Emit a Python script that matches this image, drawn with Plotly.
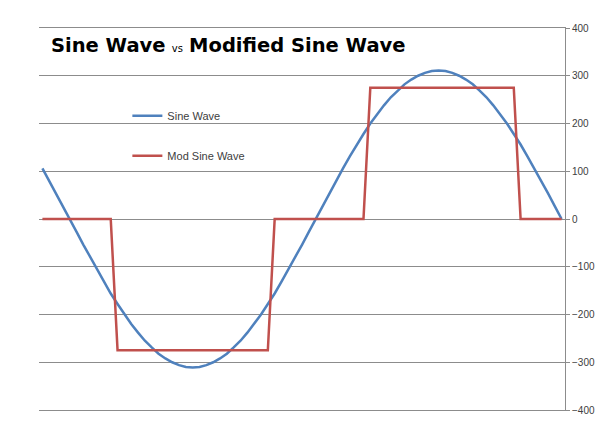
import plotly.graph_objects as go

# phase angle in degrees, 5 degree steps
angle = list(range(160, 545, 5))

sine_wave = [106, 80, 54, 27, 0, -27, -54, -80, -106, -131, -156, -178, -200, -220,
             -238, -255, -269, -282, -292, -300, -306, -310, -311, -310, -306, -300,
             -292, -282, -269, -255, -238, -220, -200, -178, -156, -131, -106, -80,
             -54, -27, 0, 27, 54, 80, 106, 131, 156, 178, 200, 220, 238, 255, 269,
             282, 292, 300, 306, 310, 311, 310, 306, 300, 292, 282, 269, 255, 238,
             220, 200, 178, 156, 131, 106, 80, 54, 27, 0]

mod_sine = ([0] * 11 + [-275] * 23 + [0] * 14 + [275] * 22 + [0] * 7)

y_ticks = [400, 300, 200, 100, 0, -100, -200, -300, -400]

fig = go.Figure()
fig.add_trace(go.Scatter(x=angle, y=sine_wave, mode="lines", name="Sine Wave",
                         line=dict(color="#4F81BD", width=2.5), legendgroup="a"))
fig.add_trace(go.Scatter(x=angle, y=mod_sine, mode="lines", name="Mod Sine Wave",
                         line=dict(color="#C0504D", width=2.5), legendgroup="b"))

fig.update_layout(
    width=609, height=431,
    margin=dict(l=31, r=52, t=20, b=29),
    paper_bgcolor="white", plot_bgcolor="white",
    font=dict(family="Liberation Sans", color="#404040", size=10),
    showlegend=True,
    legend=dict(x=0.168, y=0.808, xanchor="left", yanchor="top",
                bgcolor="rgba(0,0,0,0)", tracegroupgap=21,
                font=dict(size=11, color="#404040")),
    xaxis=dict(range=[157.5, 542.5], showticklabels=False, showgrid=False,
               zeroline=False, showline=True, mirror=True, linecolor="#8c8c8c",
               linewidth=1, ticks=""),
    yaxis=dict(range=[-400, 400], tickvals=y_ticks, side="right", automargin=False,
               showgrid=True, gridcolor="#8c8c8c", gridwidth=1,
               zeroline=False, showline=True, linecolor="#8c8c8c", linewidth=1,
               ticks="outside", ticklen=4, tickcolor="#8c8c8c",
               tickfont=dict(size=10, color="#404040")),
)

fig.add_annotation(
    xref="paper", yref="paper", x=0.019, y=0.955, xanchor="left", yanchor="middle",
    showarrow=False,
    text="<b>Sine Wave</b> <span style='font-size:10px'>vs</span> <b>Modified Sine Wave</b>",
    font=dict(family="DejaVu Sans", size=19.5, color="black"),
)

fig.write_html("out.html")
